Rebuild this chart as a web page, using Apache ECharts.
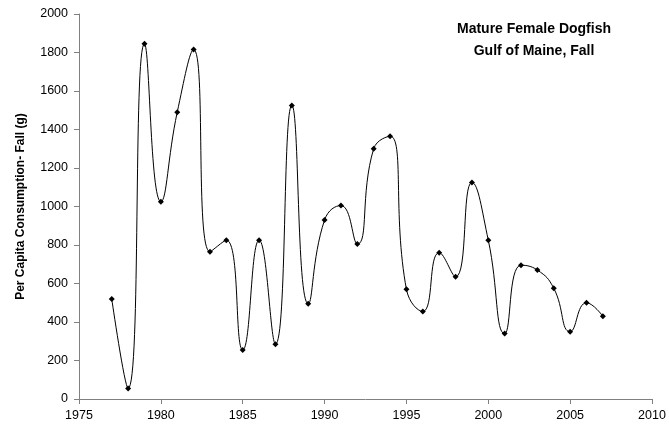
<!DOCTYPE html>
<html>
<head>
<meta charset="utf-8">
<script src="https://cdn.jsdelivr.net/npm/echarts@6/dist/echarts.min.js"></script>
<style>
  html, body { margin: 0; padding: 0; background: #fff; }
  #chart { width: 669px; height: 427px; }
</style>
</head>
<body>
<div id="chart"></div>
<script>
// years and per capita consumption (g)
var years = [1977, 1978, 1979, 1980, 1981, 1982, 1983, 1984, 1985, 1986, 1987,
    1988, 1989, 1990, 1991, 1992, 1993, 1994, 1995, 1996, 1997, 1998, 1999,
    2000, 2001, 2002, 2003, 2004, 2005, 2006, 2007];
var consumption = [520, 55, 1845, 1025, 1490, 1815, 765, 825, 255, 825, 285,
    1525, 495, 930, 1005, 805, 1300, 1365, 570, 455, 760, 635, 1125,
    825, 340, 695, 670, 575, 350, 500, 430];

var chart = echarts.init(document.getElementById('chart'));
var pts = [];
years.forEach(function (y, i) {
    pts.push([y, consumption[i]]);
});

var axisCol = '#808080';
var option = {
    backgroundColor: '#fff',
    animation: false,
    title: {
        text: 'Mature Female Dogfish\nGulf of Maine, Fall',
        left: 529,
        top: 13,
        textAlign: 'center',
        textStyle: {
            fontFamily: 'Liberation Sans',
            fontSize: 14,
            fontWeight: 'bold',
            color: '#000',
            lineHeight: 22
        }
    },
    grid: { left: 79, right: 17, top: 14, bottom: 28 },
    xAxis: {
        type: 'value',
        min: 1975,
        max: 2010,
        interval: 5,
        splitLine: { show: false },
        axisLine: { lineStyle: { color: axisCol, width: 1 } },
        axisTick: { length: 5, lineStyle: { color: axisCol } },
        axisLabel: {
            color: '#000', fontFamily: 'Liberation Sans', fontSize: 12.5, margin: 10,
            formatter: function (v) { return String(v); }
        }
    },
    yAxis: {
        type: 'value',
        min: 0,
        max: 2000,
        interval: 200,
        name: 'Per Capita Consumption- Fall (g)',
        nameLocation: 'middle',
        nameGap: 52,
        nameTextStyle: { fontFamily: 'Liberation Sans', fontSize: 12, fontWeight: 'bold', color: '#000' },
        splitLine: { show: false },
        axisLine: { show: true, lineStyle: { color: axisCol, width: 1 } },
        axisTick: { show: true, length: 5, lineStyle: { color: axisCol } },
        axisLabel: {
            color: '#000', fontFamily: 'Liberation Sans', fontSize: 12.5, margin: 11,
            formatter: function (v) { return String(v); }
        }
    },
    series: [{
        type: 'line',
        data: pts,
        smooth: 0.5,
        symbol: 'diamond',
        symbolSize: 6,
        itemStyle: { color: '#000' },
        lineStyle: { color: '#000', width: 1 }
    }]
};
chart.setOption(option);
</script>
</body>
</html>
